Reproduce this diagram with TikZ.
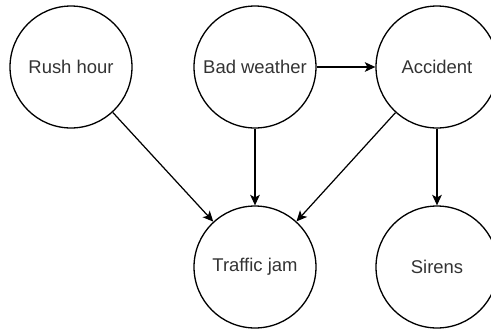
\documentclass[tikz,border=0pt]{standalone}
\usepackage{fontspec}
\setmainfont{Liberation Sans}
\usetikzlibrary{arrows.meta}
\tikzset{
  event/.style={circle, draw, line width=0.75pt, minimum size=2.44cm, inner sep=0pt,
    font=\fontsize{10.5}{12}\selectfont, text=black!80},
  link/.style={-{Stealth[length=6pt,width=5.5pt,inset=1.5pt]}, line width=0.7pt}
}
\begin{document}
\begin{tikzpicture}[x=0.02cm, y=-0.02cm]
                % 画布
                \useasboundingbox (0,0) rectangle (491,329);
                % 上排
                \node[event] (rush) at (71,67) {Rush hour};
                \node[event] (weather) at (255,67) {Bad weather};
                \node[event] (accident) at (437,67) {Accident};
                % 下排
                \node[event] (jam) at (255,267) {Traffic jam};
                \node[event] (sirens) at (437,267) {Sirens};
                % 箭头
                \draw[link] (weather) -- (accident);
                \draw[link] (rush) -- (jam);
                \draw[link] (weather) -- (jam);
                \draw[link] (accident) -- (jam);
                \draw[link] (accident) -- (sirens);
\end{tikzpicture}
\end{document}
